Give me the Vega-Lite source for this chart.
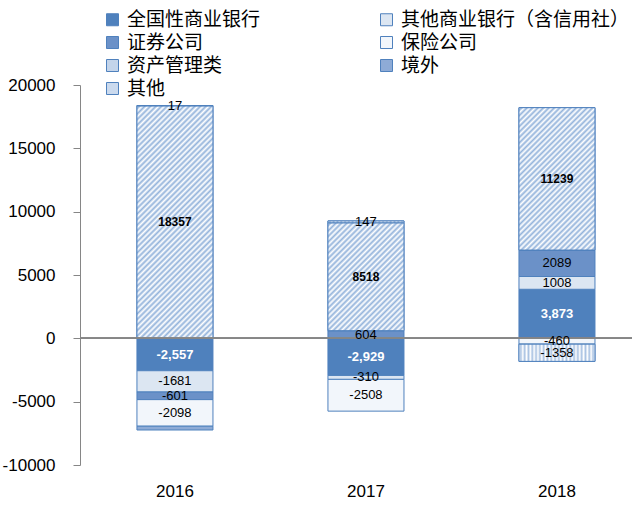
{
"$schema": "https://vega.github.io/schema/vega-lite/v6.json",
"width": 552,
"height": 380,
"autosize": {"type": "none"},
"padding": {"left": 80, "top": 85, "right": 0, "bottom": 40},
"background": "white",
"config": {"view": {"stroke": null}, "font": "Liberation Sans",
 "locale": {"number": {"decimal": ".", "thousands": ",", "grouping": [3], "currency": ["$", ""], "minus": "-"}}},
"data": {"values": [
{"year": "2016", "series": "全国性商业银行", "k": 1, "value": -2557},
{"year": "2016", "series": "其他商业银行（含信用社）", "k": 2, "value": -1681},
{"year": "2016", "series": "证券公司", "k": 3, "value": -601},
{"year": "2016", "series": "保险公司", "k": 4, "value": -2098},
{"year": "2016", "series": "资产管理类", "k": 5, "value": 18357},
{"year": "2016", "series": "境外", "k": 6, "value": -300},
{"year": "2016", "series": "其他", "k": 7, "value": 17},
{"year": "2017", "series": "全国性商业银行", "k": 1, "value": -2929},
{"year": "2017", "series": "其他商业银行（含信用社）", "k": 2, "value": -310},
{"year": "2017", "series": "证券公司", "k": 3, "value": 604},
{"year": "2017", "series": "保险公司", "k": 4, "value": -2508},
{"year": "2017", "series": "资产管理类", "k": 5, "value": 8518},
{"year": "2017", "series": "其他", "k": 7, "value": 147},
{"year": "2018", "series": "全国性商业银行", "k": 1, "value": 3873},
{"year": "2018", "series": "其他商业银行（含信用社）", "k": 2, "value": 1008},
{"year": "2018", "series": "证券公司", "k": 3, "value": 2089},
{"year": "2018", "series": "保险公司", "k": 4, "value": -460},
{"year": "2018", "series": "资产管理类", "k": 5, "value": 11239},
{"year": "2018", "series": "其他", "k": 7, "value": -1358}
]},
"transform": [
{"stack": "value", "groupby": ["year"], "sort": [{"field": "k", "order": "ascending"}], "as": ["v0", "v1"]},
{"calculate": "(datum.v0 + datum.v1) / 2", "as": "mid"}
],
"encoding": {
"x": {"field": "year", "type": "nominal", "sort": ["2016", "2017", "2018"],
 "scale": {"paddingInner": 0.602, "paddingOuter": 0.246, "align": 0.606},
 "axis": {"orient": "bottom", "domain": false, "ticks": false, "labelPadding": 18, "labelFontSize": 17, "labelColor": "#000000", "labelAngle": 0, "title": null}}
},
"layer": [
{"mark": {"type": "bar", "stroke": "#4F81BD", "strokeWidth": 1},
 "encoding": {
  "y": {"field": "v0", "type": "quantitative", "scale": {"domain": [-10000, 20000], "nice": false},
   "axis": {"values": [-10000, -5000, 0, 5000, 10000, 15000, 20000], "format": "d", "grid": false, "domainColor": "#868686", "tickColor": "#868686", "tickSize": 7, "labelFontSize": 17, "labelPadding": 18, "labelColor": "#000000", "title": null}},
  "y2": {"field": "v1"},
  "fill": {"field": "series", "type": "nominal",
   "scale": {"domain": ["全国性商业银行", "证券公司", "资产管理类", "其他", "其他商业银行（含信用社）", "保险公司", "境外"],
    "range": ["#4F81BD", "#6B91C8", "#C3D4EA", "#CBDAEE", "#DCE6F2", "#F2F6FB", "#8EABD6"]},
   "legend": {"title": null, "orient": "none", "legendX": 23, "legendY": -75, "columns": 2, "symbolType": "square", "symbolSize": 144, "labelFontSize": 19, "labelFont": "Noto Sans CJK SC", "labelColor": "#000000", "columnPadding": 116, "rowPadding": 3, "labelOffset": 5, "symbolStrokeColor": "#4F81BD", "symbolStrokeWidth": 1, "labelLimit": 400, "padding": 0}}
 }},
{"transform": [{"filter": "datum.series === '资产管理类'"}],
 "mark": {"type": "bar", "stroke": "#4F81BD", "strokeWidth": 1},
 "encoding": {
  "y": {"field": "v0", "type": "quantitative"},
  "y2": {"field": "v1"},
  "fill": {"condition": [
   {"test": "datum.year === '2016'", "value": {"gradient": "linear", "x1": 0, "y1": 0, "x2": 0.3917, "y2": 1.1988, "stops": [
{"offset":0,"color":"#fff"},{"offset":0.009,"color":"#93b3db"},{"offset":0.018,"color":"#fff"},{"offset":0.027,"color":"#93b3db"},{"offset":0.036,"color":"#fff"},{"offset":0.045,"color":"#93b3db"},{"offset":0.054,"color":"#fff"},{"offset":0.063,"color":"#93b3db"},{"offset":0.072,"color":"#fff"},{"offset":0.081,"color":"#93b3db"},{"offset":0.09,"color":"#fff"},{"offset":0.099,"color":"#93b3db"},{"offset":0.108,"color":"#fff"},{"offset":0.117,"color":"#93b3db"},{"offset":0.126,"color":"#fff"},{"offset":0.135,"color":"#93b3db"},{"offset":0.144,"color":"#fff"},{"offset":0.153,"color":"#93b3db"},{"offset":0.162,"color":"#fff"},{"offset":0.171,"color":"#93b3db"},{"offset":0.18,"color":"#fff"},{"offset":0.189,"color":"#93b3db"},{"offset":0.198,"color":"#fff"},{"offset":0.207,"color":"#93b3db"},{"offset":0.216,"color":"#fff"},{"offset":0.225,"color":"#93b3db"},{"offset":0.234,"color":"#fff"},{"offset":0.243,"color":"#93b3db"},{"offset":0.252,"color":"#fff"},{"offset":0.261,"color":"#93b3db"},{"offset":0.27,"color":"#fff"},{"offset":0.279,"color":"#93b3db"},{"offset":0.288,"color":"#fff"},{"offset":0.297,"color":"#93b3db"},{"offset":0.306,"color":"#fff"},{"offset":0.315,"color":"#93b3db"},{"offset":0.324,"color":"#fff"},{"offset":0.333,"color":"#93b3db"},{"offset":0.342,"color":"#fff"},{"offset":0.351,"color":"#93b3db"},{"offset":0.36,"color":"#fff"},{"offset":0.369,"color":"#93b3db"},{"offset":0.378,"color":"#fff"},{"offset":0.387,"color":"#93b3db"},{"offset":0.396,"color":"#fff"},{"offset":0.405,"color":"#93b3db"},{"offset":0.414,"color":"#fff"},{"offset":0.423,"color":"#93b3db"},{"offset":0.432,"color":"#fff"},{"offset":0.441,"color":"#93b3db"},{"offset":0.45,"color":"#fff"},{"offset":0.459,"color":"#93b3db"},{"offset":0.468,"color":"#fff"},{"offset":0.477,"color":"#93b3db"},{"offset":0.486,"color":"#fff"},{"offset":0.495,"color":"#93b3db"},{"offset":0.504,"color":"#fff"},{"offset":0.513,"color":"#93b3db"},{"offset":0.522,"color":"#fff"},{"offset":0.531,"color":"#93b3db"},{"offset":0.54,"color":"#fff"},{"offset":0.549,"color":"#93b3db"},{"offset":0.558,"color":"#fff"},{"offset":0.567,"color":"#93b3db"},{"offset":0.576,"color":"#fff"},{"offset":0.585,"color":"#93b3db"},{"offset":0.594,"color":"#fff"},{"offset":0.603,"color":"#93b3db"},{"offset":0.612,"color":"#fff"},{"offset":0.621,"color":"#93b3db"},{"offset":0.63,"color":"#fff"},{"offset":0.639,"color":"#93b3db"},{"offset":0.648,"color":"#fff"},{"offset":0.657,"color":"#93b3db"},{"offset":0.666,"color":"#fff"},{"offset":0.675,"color":"#93b3db"},{"offset":0.684,"color":"#fff"},{"offset":0.693,"color":"#93b3db"},{"offset":0.702,"color":"#fff"},{"offset":0.711,"color":"#93b3db"},{"offset":0.72,"color":"#fff"},{"offset":0.729,"color":"#93b3db"},{"offset":0.738,"color":"#fff"},{"offset":0.747,"color":"#93b3db"},{"offset":0.756,"color":"#fff"},{"offset":0.765,"color":"#93b3db"},{"offset":0.774,"color":"#fff"},{"offset":0.783,"color":"#93b3db"},{"offset":0.792,"color":"#fff"},{"offset":0.801,"color":"#93b3db"},{"offset":0.81,"color":"#fff"},{"offset":0.819,"color":"#93b3db"},{"offset":0.828,"color":"#fff"},{"offset":0.837,"color":"#93b3db"},{"offset":0.846,"color":"#fff"},{"offset":0.855,"color":"#93b3db"},{"offset":0.864,"color":"#fff"},{"offset":0.873,"color":"#93b3db"},{"offset":0.882,"color":"#fff"},{"offset":0.891,"color":"#93b3db"},{"offset":0.9,"color":"#fff"},{"offset":0.909,"color":"#93b3db"},{"offset":0.918,"color":"#fff"},{"offset":0.927,"color":"#93b3db"},{"offset":0.936,"color":"#fff"},{"offset":0.945,"color":"#93b3db"},{"offset":0.954,"color":"#fff"},{"offset":0.963,"color":"#93b3db"},{"offset":0.972,"color":"#fff"},{"offset":0.981,"color":"#93b3db"},{"offset":0.99,"color":"#fff"},{"offset":0.999,"color":"#93b3db"}
   ]}},
   {"test": "datum.year === '2017'", "value": {"gradient": "linear", "x1": 0, "y1": 0, "x2": 0.8024, "y2": 1.1392, "stops": [
{"offset":0,"color":"#fff"},{"offset":0.015,"color":"#93b3db"},{"offset":0.03,"color":"#fff"},{"offset":0.045,"color":"#93b3db"},{"offset":0.06,"color":"#fff"},{"offset":0.075,"color":"#93b3db"},{"offset":0.09,"color":"#fff"},{"offset":0.105,"color":"#93b3db"},{"offset":0.12,"color":"#fff"},{"offset":0.135,"color":"#93b3db"},{"offset":0.15,"color":"#fff"},{"offset":0.165,"color":"#93b3db"},{"offset":0.18,"color":"#fff"},{"offset":0.195,"color":"#93b3db"},{"offset":0.21,"color":"#fff"},{"offset":0.225,"color":"#93b3db"},{"offset":0.24,"color":"#fff"},{"offset":0.255,"color":"#93b3db"},{"offset":0.27,"color":"#fff"},{"offset":0.285,"color":"#93b3db"},{"offset":0.3,"color":"#fff"},{"offset":0.315,"color":"#93b3db"},{"offset":0.33,"color":"#fff"},{"offset":0.345,"color":"#93b3db"},{"offset":0.36,"color":"#fff"},{"offset":0.375,"color":"#93b3db"},{"offset":0.39,"color":"#fff"},{"offset":0.405,"color":"#93b3db"},{"offset":0.42,"color":"#fff"},{"offset":0.435,"color":"#93b3db"},{"offset":0.45,"color":"#fff"},{"offset":0.465,"color":"#93b3db"},{"offset":0.48,"color":"#fff"},{"offset":0.495,"color":"#93b3db"},{"offset":0.51,"color":"#fff"},{"offset":0.525,"color":"#93b3db"},{"offset":0.54,"color":"#fff"},{"offset":0.555,"color":"#93b3db"},{"offset":0.57,"color":"#fff"},{"offset":0.585,"color":"#93b3db"},{"offset":0.6,"color":"#fff"},{"offset":0.615,"color":"#93b3db"},{"offset":0.63,"color":"#fff"},{"offset":0.645,"color":"#93b3db"},{"offset":0.66,"color":"#fff"},{"offset":0.675,"color":"#93b3db"},{"offset":0.69,"color":"#fff"},{"offset":0.705,"color":"#93b3db"},{"offset":0.72,"color":"#fff"},{"offset":0.735,"color":"#93b3db"},{"offset":0.75,"color":"#fff"},{"offset":0.765,"color":"#93b3db"},{"offset":0.78,"color":"#fff"},{"offset":0.795,"color":"#93b3db"},{"offset":0.81,"color":"#fff"},{"offset":0.825,"color":"#93b3db"},{"offset":0.84,"color":"#fff"},{"offset":0.855,"color":"#93b3db"},{"offset":0.87,"color":"#fff"},{"offset":0.885,"color":"#93b3db"},{"offset":0.9,"color":"#fff"},{"offset":0.915,"color":"#93b3db"},{"offset":0.93,"color":"#fff"},{"offset":0.945,"color":"#93b3db"},{"offset":0.96,"color":"#fff"},{"offset":0.975,"color":"#93b3db"},{"offset":0.99,"color":"#fff"}
   ]}}
  ],
  "value": {"gradient": "linear", "x1": 0, "y1": 0, "x2": 0.6371, "y2": 1.1937, "stops": [
{"offset":0,"color":"#fff"},{"offset":0.0125,"color":"#93b3db"},{"offset":0.025,"color":"#fff"},{"offset":0.0375,"color":"#93b3db"},{"offset":0.05,"color":"#fff"},{"offset":0.0625,"color":"#93b3db"},{"offset":0.075,"color":"#fff"},{"offset":0.0875,"color":"#93b3db"},{"offset":0.1,"color":"#fff"},{"offset":0.1125,"color":"#93b3db"},{"offset":0.125,"color":"#fff"},{"offset":0.1375,"color":"#93b3db"},{"offset":0.15,"color":"#fff"},{"offset":0.1625,"color":"#93b3db"},{"offset":0.175,"color":"#fff"},{"offset":0.1875,"color":"#93b3db"},{"offset":0.2,"color":"#fff"},{"offset":0.2125,"color":"#93b3db"},{"offset":0.225,"color":"#fff"},{"offset":0.2375,"color":"#93b3db"},{"offset":0.25,"color":"#fff"},{"offset":0.2625,"color":"#93b3db"},{"offset":0.275,"color":"#fff"},{"offset":0.2875,"color":"#93b3db"},{"offset":0.3,"color":"#fff"},{"offset":0.3125,"color":"#93b3db"},{"offset":0.325,"color":"#fff"},{"offset":0.3375,"color":"#93b3db"},{"offset":0.35,"color":"#fff"},{"offset":0.3625,"color":"#93b3db"},{"offset":0.375,"color":"#fff"},{"offset":0.3875,"color":"#93b3db"},{"offset":0.4,"color":"#fff"},{"offset":0.4125,"color":"#93b3db"},{"offset":0.425,"color":"#fff"},{"offset":0.4375,"color":"#93b3db"},{"offset":0.45,"color":"#fff"},{"offset":0.4625,"color":"#93b3db"},{"offset":0.475,"color":"#fff"},{"offset":0.4875,"color":"#93b3db"},{"offset":0.5,"color":"#fff"},{"offset":0.5125,"color":"#93b3db"},{"offset":0.525,"color":"#fff"},{"offset":0.5375,"color":"#93b3db"},{"offset":0.55,"color":"#fff"},{"offset":0.5625,"color":"#93b3db"},{"offset":0.575,"color":"#fff"},{"offset":0.5875,"color":"#93b3db"},{"offset":0.6,"color":"#fff"},{"offset":0.6125,"color":"#93b3db"},{"offset":0.625,"color":"#fff"},{"offset":0.6375,"color":"#93b3db"},{"offset":0.65,"color":"#fff"},{"offset":0.6625,"color":"#93b3db"},{"offset":0.675,"color":"#fff"},{"offset":0.6875,"color":"#93b3db"},{"offset":0.7,"color":"#fff"},{"offset":0.7125,"color":"#93b3db"},{"offset":0.725,"color":"#fff"},{"offset":0.7375,"color":"#93b3db"},{"offset":0.75,"color":"#fff"},{"offset":0.7625,"color":"#93b3db"},{"offset":0.775,"color":"#fff"},{"offset":0.7875,"color":"#93b3db"},{"offset":0.8,"color":"#fff"},{"offset":0.8125,"color":"#93b3db"},{"offset":0.825,"color":"#fff"},{"offset":0.8375,"color":"#93b3db"},{"offset":0.85,"color":"#fff"},{"offset":0.8625,"color":"#93b3db"},{"offset":0.875,"color":"#fff"},{"offset":0.8875,"color":"#93b3db"},{"offset":0.9,"color":"#fff"},{"offset":0.9125,"color":"#93b3db"},{"offset":0.925,"color":"#fff"},{"offset":0.9375,"color":"#93b3db"},{"offset":0.95,"color":"#fff"},{"offset":0.9625,"color":"#93b3db"},{"offset":0.975,"color":"#fff"},{"offset":0.9875,"color":"#93b3db"},{"offset":1,"color":"#fff"}
  ]}}
 }},
{"transform": [{"filter": "datum.series === '其他'"}],
 "mark": {"type": "bar", "stroke": "#4F81BD", "strokeWidth": 1,
  "fill": {"gradient": "linear", "x1": 0, "y1": 0, "x2": 1, "y2": 0, "stops": [
{"offset":0,"color":"#fff"},{"offset":0.025,"color":"#a9c2e2"},{"offset":0.05,"color":"#fff"},{"offset":0.075,"color":"#a9c2e2"},{"offset":0.1,"color":"#fff"},{"offset":0.125,"color":"#a9c2e2"},{"offset":0.15,"color":"#fff"},{"offset":0.175,"color":"#a9c2e2"},{"offset":0.2,"color":"#fff"},{"offset":0.225,"color":"#a9c2e2"},{"offset":0.25,"color":"#fff"},{"offset":0.275,"color":"#a9c2e2"},{"offset":0.3,"color":"#fff"},{"offset":0.325,"color":"#a9c2e2"},{"offset":0.35,"color":"#fff"},{"offset":0.375,"color":"#a9c2e2"},{"offset":0.4,"color":"#fff"},{"offset":0.425,"color":"#a9c2e2"},{"offset":0.45,"color":"#fff"},{"offset":0.475,"color":"#a9c2e2"},{"offset":0.5,"color":"#fff"},{"offset":0.525,"color":"#a9c2e2"},{"offset":0.55,"color":"#fff"},{"offset":0.575,"color":"#a9c2e2"},{"offset":0.6,"color":"#fff"},{"offset":0.625,"color":"#a9c2e2"},{"offset":0.65,"color":"#fff"},{"offset":0.675,"color":"#a9c2e2"},{"offset":0.7,"color":"#fff"},{"offset":0.725,"color":"#a9c2e2"},{"offset":0.75,"color":"#fff"},{"offset":0.775,"color":"#a9c2e2"},{"offset":0.8,"color":"#fff"},{"offset":0.825,"color":"#a9c2e2"},{"offset":0.85,"color":"#fff"},{"offset":0.875,"color":"#a9c2e2"},{"offset":0.9,"color":"#fff"},{"offset":0.925,"color":"#a9c2e2"},{"offset":0.95,"color":"#fff"},{"offset":0.975,"color":"#a9c2e2"},{"offset":1,"color":"#fff"}
  ]}},
 "encoding": {
  "y": {"field": "v0", "type": "quantitative"},
  "y2": {"field": "v1"}
 }},
{"mark": {"type": "rule", "color": "#868686", "strokeWidth": 1},
 "encoding": {"y": {"datum": 0, "type": "quantitative"}, "x": {}}},
{"transform": [{"filter": "datum.series === '全国性商业银行'"}],
 "mark": {"type": "text", "color": "#ffffff", "fontWeight": "bold", "fontSize": 13, "font": "Liberation Sans", "baseline": "middle"},
 "encoding": {"y": {"field": "mid", "type": "quantitative"}, "text": {"field": "value", "type": "quantitative", "format": ","}}},
{"transform": [{"filter": "datum.series === '资产管理类'"}],
 "mark": {"type": "text", "color": "#000000", "fontWeight": "bold", "fontSize": 12, "font": "Liberation Sans", "baseline": "middle"},
 "encoding": {"y": {"field": "mid", "type": "quantitative"}, "text": {"field": "value", "type": "quantitative", "format": "d"}}},
{"transform": [{"filter": "datum.series !== '全国性商业银行' && datum.series !== '资产管理类' && !(datum.year === '2016' && datum.series === '境外')"}],
 "mark": {"type": "text", "color": "#000000", "fontSize": 13, "font": "Liberation Sans", "baseline": "middle"},
 "encoding": {"y": {"field": "mid", "type": "quantitative"}, "text": {"field": "value", "type": "quantitative", "format": "d"}}}
]
}
